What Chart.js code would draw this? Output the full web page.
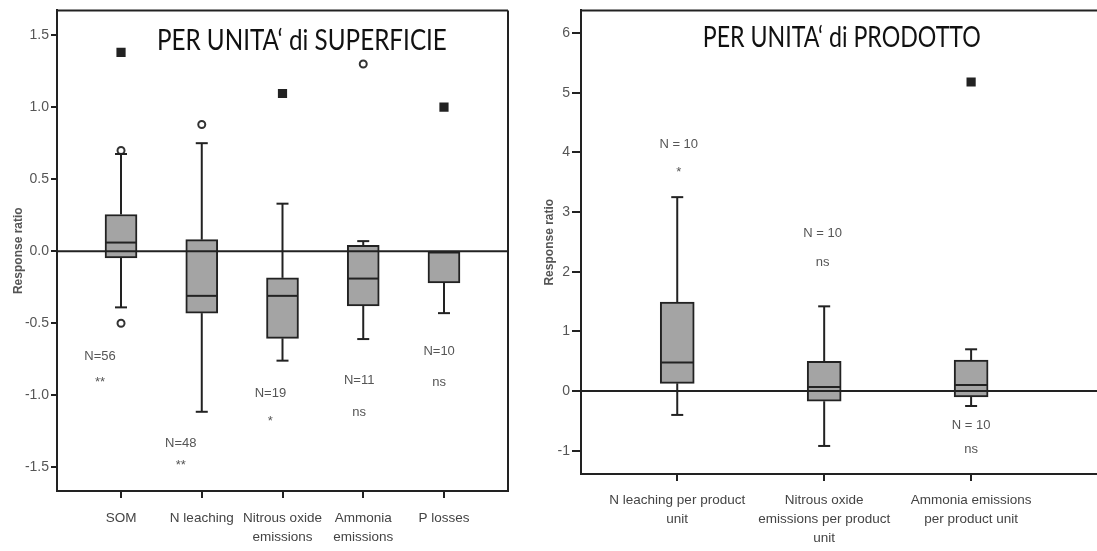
<!DOCTYPE html>
<html>
<head>
<meta charset="utf-8">
<script src="https://cdn.jsdelivr.net/npm/chart.js@4.4.1/dist/chart.umd.min.js"></script>
<style>
  body { margin: 0; background: #fff; overflow: hidden; }
  #areaChart { position: absolute; left: 0; top: 0; }
  #productChart { position: absolute; left: 530px; top: 0; }
</style>
</head>
<body>
<canvas id="areaChart" width="520" height="551"></canvas>
<canvas id="productChart" width="575" height="551"></canvas>
<script>
// ---- per unit area (left panel) ----
const areaLabels = ['SOM', 'N leaching', ['Nitrous oxide', 'emissions'], ['Ammonia', 'emissions'], 'P losses'];
const areaMin = [-0.39, -1.115, -0.76, -0.61, -0.43];
const areaQ1 = [-0.046, -0.43, -0.605, -0.38, -0.22];
const areaMedian = [0.06, -0.31, -0.31, -0.19, -0.005];
const areaQ3 = [0.255, 0.08, -0.185, 0.04, -0.005];
const areaMax = [0.675, 0.75, 0.33, 0.07, -0.005];
const areaOutliers = [[0.70, -0.50], [0.88], [], [1.30], []];
const areaExtremes = [[1.38], [], [1.095], [], [1.0]];
const areaN = ['N=56', 'N=48', 'N=19', 'N=11', 'N=10'];
const areaSig = ['**', '**', '*', 'ns', 'ns'];
const areaTicks = [-1.5, -1.0, -0.5, 0.0, 0.5, 1.0, 1.5];

// ---- per unit product (right panel) ----
const prodLabels = [['N leaching per product', 'unit'], ['Nitrous oxide', 'emissions per product', 'unit'], ['Ammonia emissions', 'per product unit']];
const prodMin = [-0.40, -0.92, -0.25];
const prodQ1 = [0.13, -0.17, -0.10];
const prodMedian = [0.48, 0.07, 0.10];
const prodQ3 = [1.49, 0.50, 0.52];
const prodMax = [3.25, 1.42, 0.70];
const prodOutliers = [[], [], []];
const prodExtremes = [[], [], [5.18]];
const prodN = ['N = 10', 'N = 10', 'N = 10'];
const prodSig = ['*', 'ns', 'ns'];
const prodTicks = [-1, 0, 1, 2, 3, 4, 5, 6];

const FONT = "'Liberation Sans', Arial, sans-serif";
const INK = '#222';

// whiskers, medians, zero line, frame, notes and panel title
const boxExtras = {
  id: 'boxExtras',
  afterDatasetsDraw(chart, args, o) {
    const { ctx, chartArea: a, scales: { x, y } } = chart;
    ctx.save();
    ctx.strokeStyle = INK;
    ctx.lineWidth = 2;
    const line = (x1, y1, x2, y2) => { ctx.beginPath(); ctx.moveTo(x1, y1); ctx.lineTo(x2, y2); ctx.stroke(); };
    // zero line over the boxes
    line(a.left, y.getPixelForValue(0), a.right, y.getPixelForValue(0));
    o.median.forEach((m, i) => {
      const cx = x.getPixelForValue(i + 1);
      const h = o.boxWidth / 2;
      line(cx - h + 1, y.getPixelForValue(m), cx + h - 1, y.getPixelForValue(m));
      if (o.max[i] > o.q3[i]) {
        line(cx, y.getPixelForValue(o.q3[i]), cx, y.getPixelForValue(o.max[i]));
        line(cx - 6, y.getPixelForValue(o.max[i]), cx + 6, y.getPixelForValue(o.max[i]));
      }
      if (o.min[i] < o.q1[i]) {
        line(cx, y.getPixelForValue(o.q1[i]), cx, y.getPixelForValue(o.min[i]));
        line(cx - 6, y.getPixelForValue(o.min[i]), cx + 6, y.getPixelForValue(o.min[i]));
      }
    });
    // frame
    line(a.left, a.top, a.right, a.top);
    if (o.rightBorder) line(a.right, a.top, a.right, a.bottom);
    // N and significance notes
    ctx.fillStyle = '#555';
    ctx.font = '13px ' + FONT;
    ctx.textAlign = 'center';
    ctx.textBaseline = 'middle';
    o.notes.forEach((t, i) => {
      const p = o.notePos[i];
      ctx.fillText(t, x.getPixelForValue(p[0]), y.getPixelForValue(p[1]));
      ctx.fillText(o.sig[i], x.getPixelForValue(p[0]), y.getPixelForValue(p[2]));
    });
    // title inside the plot
    ctx.fillStyle = '#111';
    ctx.font = '29px Lato, sans-serif';
    ctx.fillText(o.title, x.getPixelForValue(o.titlePos[0]), y.getPixelForValue(o.titlePos[1]), o.titleWidth);
    ctx.restore();
  }
};

function pointsFrom(list) {
  const pts = [];
  list.forEach((vals, i) => vals.forEach(v => pts.push({ x: i + 1, y: v })));
  return pts;
}

function makeChart(id, cfg) {
  return new Chart(document.getElementById(id), {
    type: 'bar',
    data: {
      datasets: [{
        data: cfg.q1.map((q, i) => ({ x: i + 1, y: [q, cfg.q3[i]] })),
        backgroundColor: '#a4a4a4',
        borderColor: INK,
        borderWidth: 2,
        borderSkipped: false,
        barThickness: cfg.boxWidth
      }, {
        type: 'scatter',
        data: pointsFrom(cfg.outliers),
        pointStyle: 'circle',
        radius: 3.5,
        borderWidth: 2,
        borderColor: '#333',
        backgroundColor: '#fff'
      }, {
        type: 'scatter',
        data: pointsFrom(cfg.extremes),
        pointStyle: 'rect',
        radius: 6.5,
        borderWidth: 0,
        backgroundColor: INK
      }]
    },
    options: {
      responsive: false,
      animation: false,
      devicePixelRatio: 1,
      layout: { padding: cfg.padding },
      plugins: {
        legend: { display: false },
        tooltip: { enabled: false },
        boxExtras: {
          median: cfg.median, q1: cfg.q1, q3: cfg.q3, min: cfg.min, max: cfg.max,
          boxWidth: cfg.boxWidth, notes: cfg.notes, sig: cfg.sig, notePos: cfg.notePos,
          title: cfg.title, titlePos: cfg.titlePos, titleWidth: cfg.titleWidth,
          rightBorder: cfg.rightBorder
        }
      },
      scales: {
        x: {
          type: 'linear',
          offset: false,
          min: cfg.xMin,
          max: cfg.xMax,
          afterBuildTicks: s => { s.ticks = cfg.labels.map((l, i) => ({ value: i + 1 })); },
          afterFit: s => { s.height = cfg.xHeight; },
          ticks: {
            callback: v => cfg.labels[v - 1],
            color: '#444',
            font: { family: FONT, size: 13.5, lineHeight: 1.4 },
            padding: cfg.xPad,
            maxRotation: 0,
            autoSkip: false
          },
          grid: { offset: false, drawOnChartArea: false, tickColor: INK, tickLength: 7, lineWidth: 2 },
          border: { color: INK, width: 2 }
        },
        y: {
          min: cfg.yMin,
          max: cfg.yMax,
          afterBuildTicks: s => { s.ticks = cfg.ticks.map(v => ({ value: v })); },
          afterFit: s => { s.width = cfg.yWidth; },
          ticks: {
            callback: cfg.tickFmt,
            color: '#555',
            font: { family: FONT, size: 14 },
            padding: 2
          },
          grid: { drawOnChartArea: false, tickColor: INK, tickLength: cfg.yTickLen, lineWidth: 2 },
          border: { color: INK, width: 2 },
          title: {
            display: true,
            text: 'Response ratio',
            color: '#555',
            font: { family: FONT, size: 12, weight: 'bold' },
            padding: { top: cfg.titlePad, bottom: 0 }
          }
        }
      }
    },
    plugins: [boxExtras]
  });
}

makeChart('areaChart', {
  labels: areaLabels, min: areaMin, q1: areaQ1, median: areaMedian, q3: areaQ3, max: areaMax,
  outliers: areaOutliers, extremes: areaExtremes, notes: areaN, sig: areaSig, ticks: areaTicks,
  notePos: [[0.74, -0.73, -0.91], [1.74, -1.335, -1.49], [2.85, -0.985, -1.18], [3.95, -0.895, -1.12], [4.94, -0.695, -0.91]],
  title: 'PER UNITA\u2018 di SUPERFICIE', titlePos: [3.24, 1.46], titleWidth: 290,
  xMin: 0.207, xMax: 5.793, yMin: -1.665, yMax: 1.672,
  boxWidth: 32, padding: { top: 6, right: 12, left: 0, bottom: 0 },
  xHeight: 60, xPad: 11, yWidth: 57, yTickLen: 6, titlePad: 11,
  tickFmt: v => v.toFixed(1), rightBorder: true
});

makeChart('productChart', {
  labels: prodLabels, min: prodMin, q1: prodQ1, median: prodMedian, q3: prodQ3, max: prodMax,
  outliers: prodOutliers, extremes: prodExtremes, notes: prodN, sig: prodSig, ticks: prodTicks,
  notePos: [[1.01, 4.13, 3.67], [1.99, 2.65, 2.16], [3.0, -0.57, -0.97]],
  title: 'PER UNITA\u2018 di PRODOTTO', titlePos: [2.12, 5.93], titleWidth: 278,
  xMin: 0.345, xMax: 3.867, yMin: -1.39, yMax: 6.38,
  boxWidth: 34, padding: { top: 10, right: 0, left: 0, bottom: 0 },
  xHeight: 77, xPad: 10, yWidth: 51, yTickLen: 9, titlePad: 12,
  tickFmt: v => String(v), rightBorder: false
});
</script>
</body>
</html>
